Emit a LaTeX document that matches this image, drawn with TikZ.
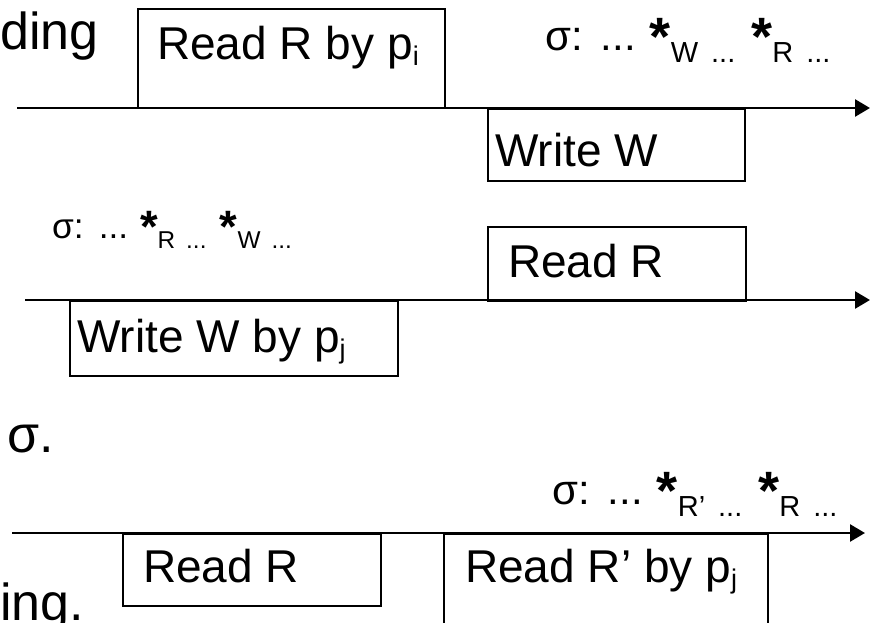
\documentclass[tikz,border=0pt]{standalone}
\usepackage{fontspec}
\usepackage{graphicx}
\setmainfont{Liberation Sans}
\usetikzlibrary{arrows.meta,calc}
% sizes for the sequence annotations
\newcommand\subsz{\fontsize{29}{29}\selectfont}
\newcommand\idxsz{\fontsize{27}{27}\selectfont}
% large bold star of a sequence entry
\newcommand\seqstar{\raisebox{-5pt}{\fontsize{54}{54}\selectfont\bfseries *}}
% one "*_X ..." entry of a sequence sigma
\newcommand\seqmark[1]{\seqstar\raisebox{-12pt}{\subsz #1\hspace{13pt}...}}
% a whole sequence sigma with two marked events
\newcommand\seqline[2]{σ:\hspace{18pt}...\hspace{14pt}\seqmark{#1}\hspace{16pt}\seqmark{#2}}
% process index, lowered
\newcommand\pidx[1]{p\raisebox{-6pt}{\idxsz #1}}
\begin{document}
\begin{tikzpicture}[x=1pt,y=-1pt,
  axis/.style={line width=2.6pt,-{Triangle[length=15pt,width=17pt]}},
  opbox/.style={draw,line width=1.8pt,inner sep=0,anchor=north west},
  lbl/.style={anchor=base west,inner sep=0,font=\fontsize{46}{46}\selectfont},
  seq/.style={anchor=base west,inner sep=0,font=\fontsize{42}{42}\selectfont},
  body/.style={anchor=base west,inner sep=0,font=\fontsize{52}{52}\selectfont}]
\useasboundingbox (0,0) rectangle (873,623);
\clip (0,0) rectangle (873,623);

% ---- first time line: read by p_i, then write ----
\node[opbox,minimum width=307pt,minimum height=99pt] (b1) at (137,8) {};
\node[opbox,minimum width=257pt,minimum height=72pt] (b2) at (487,108) {};
\coordinate (a1s) at (17,108);
\coordinate (a1e) at (870,108);
\draw[axis] (a1s) -- (a1e);
\node[lbl] (t1) at ($(b1.north west)+(20,52)$) {Read R by \pidx{i}};
\node[lbl] (t2) at ($(b2.north west)+(8,59)$) {Write W};
\node[seq] (s1) at (545,51) {\seqline{W}{R}};
\node[body] (d1) at (0,50) {ding};

% ---- second time line: write by p_j, then read ----
\node[opbox,minimum width=258pt,minimum height=74pt] (b3) at (487,226) {};
\node[opbox,minimum width=328pt,minimum height=75pt] (b4) at (69,300) {};
\coordinate (a2s) at (25,300);
\coordinate (a2e) at (870,300);
\draw[axis] (a2s) -- (a2e);
\node[lbl] (t3) at ($(b3.north west)+(21,51)$) {Read R};
\node[lbl] (t4) at ($(b4.north west)+(8,52)$) {Write W by \pidx{j}};
\node[seq] (s2) at (52,238) {\scalebox{0.84}{\seqline{R}{W}}};
\node[body] (d2) at (7,452) {σ.};

% ---- third time line: two reads ----
\node[opbox,minimum width=258pt,minimum height=72pt] (b5) at (122,533) {};
\node[opbox,minimum width=324pt,minimum height=110pt] (b6) at (443,533) {};
\coordinate (a3s) at (12,533);
\coordinate (a3e) at (865,533);
\draw[axis] (a3s) -- (a3e);
\node[lbl] (t5) at ($(b5.north west)+(21,49)$) {Read R};
\node[lbl] (t6) at ($(b6.north west)+(22,49)$) {Read R' by \pidx{j}};
\node[seq] (s3) at (552,504) {\seqline{R'}{R}};
\node[body] (d3) at (0,620) {ing.};
\end{tikzpicture}
\end{document}
